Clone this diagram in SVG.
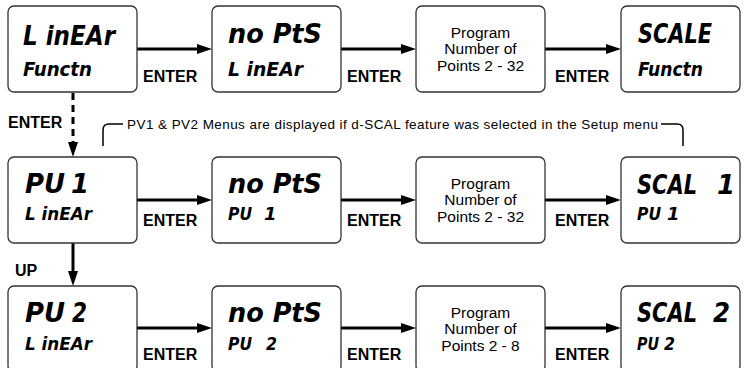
<svg xmlns="http://www.w3.org/2000/svg" width="747" height="368" viewBox="0 0 747 368">
<style>
.box{fill:#fff;stroke:#333;stroke-width:1.3}
.lcd{font-family:"DejaVu Sans","Liberation Sans",sans-serif;font-weight:bold;font-style:italic;fill:#000}
.big{font-size:26px}
.sm{font-size:20px}
.xs{font-size:18px}
.lbl{font-family:"Liberation Sans",Arial,sans-serif;font-weight:bold;font-size:16px;fill:#000}
.prog{font-family:"Liberation Sans",Arial,sans-serif;font-size:15.5px;fill:#000;text-anchor:middle}
.note{font-family:"Liberation Sans",Arial,sans-serif;font-size:13.5px;fill:#000}
.arr{stroke:#000;stroke-width:3;fill:none}
.brk{stroke:#000;stroke-width:1.5;fill:none}
</style>
<defs>
<marker id="ah" viewBox="0 -5 15 10" refX="0" refY="0" markerWidth="15" markerHeight="10" markerUnits="userSpaceOnUse" orient="auto">
<path d="M0,-5 L15,0 L0,5 z" fill="#000"/>
</marker>
</defs>

<g id="connectors">
<line class="arr" x1="137" y1="49" x2="197" y2="49" marker-end="url(#ah)"/>
<line class="arr" x1="341" y1="49" x2="401" y2="49" marker-end="url(#ah)"/>
<line class="arr" x1="545" y1="49" x2="606" y2="49" marker-end="url(#ah)"/>
<line class="arr" x1="137" y1="200" x2="197" y2="200" marker-end="url(#ah)"/>
<line class="arr" x1="341" y1="200" x2="401" y2="200" marker-end="url(#ah)"/>
<line class="arr" x1="545" y1="200" x2="606" y2="200" marker-end="url(#ah)"/>
<line class="arr" x1="137" y1="328" x2="197" y2="328" marker-end="url(#ah)"/>
<line class="arr" x1="341" y1="328" x2="401" y2="328" marker-end="url(#ah)"/>
<line class="arr" x1="545" y1="328" x2="606" y2="328" marker-end="url(#ah)"/>
<line class="arr" x1="73" y1="93" x2="73" y2="142" stroke-dasharray="7,5" marker-end="url(#ah)"/>
<line class="arr" x1="73" y1="243" x2="73" y2="271" marker-end="url(#ah)"/>
<text class="lbl" x="143" y="82">ENTER</text>
<text class="lbl" x="347" y="82">ENTER</text>
<text class="lbl" x="555" y="82">ENTER</text>
<text class="lbl" x="143" y="226">ENTER</text>
<text class="lbl" x="347" y="226">ENTER</text>
<text class="lbl" x="555" y="226">ENTER</text>
<text class="lbl" x="143" y="360">ENTER</text>
<text class="lbl" x="347" y="360">ENTER</text>
<text class="lbl" x="555" y="360">ENTER</text>
<text class="lbl" x="8" y="128">ENTER</text>
<text class="lbl" x="15" y="276">UP</text>
</g>

<g id="note">
<path class="brk" d="M103,146 V130 Q103,124 109,124 H123"/>
<path class="brk" d="M661,124 H677 Q683,124 683,130 V146"/>
<text class="note" x="127" y="129" textLength="531" lengthAdjust="spacing">PV1 &amp; PV2 Menus are displayed if d-SCAL feature was selected in the Setup menu</text>
</g>

<g id="linear-functn">
<rect class="box" x="8" y="6" width="129" height="86" rx="6"/>
<text class="lcd big" x="23" y="45" textLength="92" lengthAdjust="spacingAndGlyphs">L inEAr</text>
<text class="lcd sm" x="23" y="76" textLength="69" lengthAdjust="spacingAndGlyphs">Functn</text>
</g>
<g id="nopts-linear">
<rect class="box" x="212" y="6" width="129" height="86" rx="6"/>
<text class="lcd big" x="228" y="43" textLength="94" lengthAdjust="spacingAndGlyphs">no PtS</text>
<text class="lcd sm" x="228" y="76" textLength="75" lengthAdjust="spacingAndGlyphs">L inEAr</text>
</g>
<g id="program-1">
<rect class="box" x="416" y="6" width="129" height="86" rx="6"/>
<text class="prog" x="480.5" y="38">Program</text>
<text class="prog" x="480.5" y="54">Number of</text>
<text class="prog" x="480.5" y="71">Points 2 - 32</text>
</g>
<g id="scale-functn">
<rect class="box" x="621" y="6" width="119" height="86" rx="6"/>
<text class="lcd big" x="638" y="43" textLength="74" lengthAdjust="spacingAndGlyphs">SCALE</text>
<text class="lcd sm" x="638" y="76" textLength="65" lengthAdjust="spacingAndGlyphs">Functn</text>
</g>

<g id="pv1-linear">
<rect class="box" x="8" y="157" width="129" height="86" rx="6"/>
<text class="lcd big" x="25" y="193"><tspan textLength="40" lengthAdjust="spacingAndGlyphs">PU</tspan> <tspan x="71">1</tspan></text>
<text class="lcd xs" x="25" y="220" textLength="67" lengthAdjust="spacingAndGlyphs">L inEAr</text>
</g>
<g id="nopts-pv1">
<rect class="box" x="212" y="157" width="129" height="86" rx="6"/>
<text class="lcd big" x="228" y="193" textLength="94" lengthAdjust="spacingAndGlyphs">no PtS</text>
<text class="lcd xs" x="228" y="220"><tspan textLength="24" lengthAdjust="spacingAndGlyphs">PU</tspan> <tspan x="264">1</tspan></text>
</g>
<g id="program-2">
<rect class="box" x="416" y="157" width="129" height="86" rx="6"/>
<text class="prog" x="480.5" y="189">Program</text>
<text class="prog" x="480.5" y="205">Number of</text>
<text class="prog" x="480.5" y="222">Points 2 - 32</text>
</g>
<g id="scal1-pv1">
<rect class="box" x="621" y="157" width="119" height="86" rx="6"/>
<text class="lcd big" x="637" y="194"><tspan textLength="60" lengthAdjust="spacingAndGlyphs">SCAL</tspan> <tspan x="717">1</tspan></text>
<text class="lcd xs" x="637" y="220"><tspan textLength="24" lengthAdjust="spacingAndGlyphs">PU</tspan> <tspan x="667">1</tspan></text>
</g>

<g id="pv2-linear">
<rect class="box" x="8" y="286" width="129" height="86" rx="6"/>
<text class="lcd big" x="25" y="322"><tspan textLength="40" lengthAdjust="spacingAndGlyphs">PU</tspan> <tspan x="72" textLength="15" lengthAdjust="spacingAndGlyphs">2</tspan></text>
<text class="lcd xs" x="25" y="350" textLength="67" lengthAdjust="spacingAndGlyphs">L inEAr</text>
</g>
<g id="nopts-pv2">
<rect class="box" x="212" y="286" width="129" height="86" rx="6"/>
<text class="lcd big" x="228" y="322" textLength="94" lengthAdjust="spacingAndGlyphs">no PtS</text>
<text class="lcd xs" x="228" y="350"><tspan textLength="24" lengthAdjust="spacingAndGlyphs">PU</tspan> <tspan x="266" textLength="11" lengthAdjust="spacingAndGlyphs">2</tspan></text>
</g>
<g id="program-3">
<rect class="box" x="416" y="286" width="129" height="86" rx="6"/>
<text class="prog" x="480.5" y="318">Program</text>
<text class="prog" x="480.5" y="334">Number of</text>
<text class="prog" x="480.5" y="351">Points 2 - 8</text>
</g>
<g id="scal2-pv2">
<rect class="box" x="621" y="286" width="119" height="86" rx="6"/>
<text class="lcd big" x="637" y="322"><tspan textLength="60" lengthAdjust="spacingAndGlyphs">SCAL</tspan> <tspan x="713" textLength="17" lengthAdjust="spacingAndGlyphs">2</tspan></text>
<text class="lcd xs" x="637" y="350"><tspan textLength="22" lengthAdjust="spacingAndGlyphs">PU</tspan> <tspan x="664" textLength="11" lengthAdjust="spacingAndGlyphs">2</tspan></text>
</g>
</svg>
